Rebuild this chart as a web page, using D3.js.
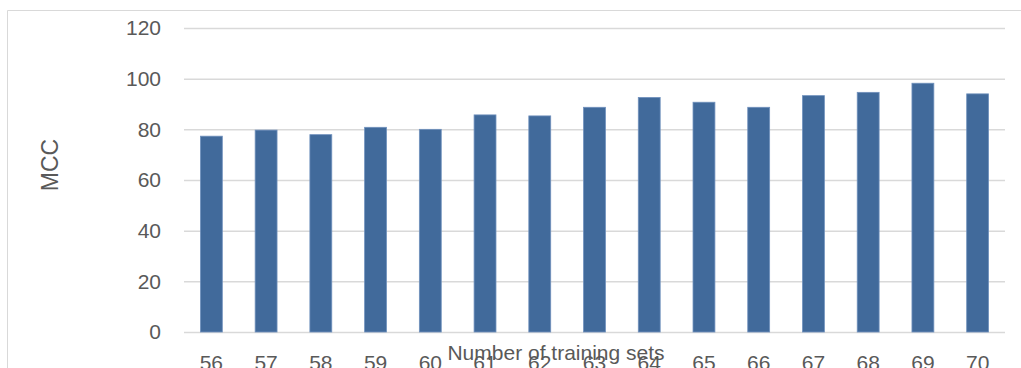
<!DOCTYPE html>
<html>
<head>
<meta charset="utf-8">
<script src="https://cdn.jsdelivr.net/npm/d3@7"></script>
<style>
  html, body { margin: 0; padding: 0; background: #fff; overflow: hidden; }
  svg { display: block; font-family: "Liberation Sans", "DejaVu Sans", sans-serif; }
</style>
</head>
<body>
<svg id="chart" width="1021" height="368"></svg>
<script>
// Training-set counts and the MCC reached with each
const categories = ["56", "57", "58", "59", "60", "61", "62", "63", "64", "65", "66", "67", "68", "69", "70"];
const mccValues = [77.3, 79.7, 77.9, 80.8, 80.0, 85.7, 85.3, 88.7, 92.6, 90.7, 88.7, 93.3, 94.6, 98.2, 94.0];
const yTicks = [0, 20, 40, 60, 80, 100, 120];
const xTitle = "Number of training sets";
const yTitle = "MCC";

const svg = d3.select("#chart");
const margin = { left: 184, right: 16, top: 28, bottom: 36 };
const W = 1021, H = 368;
const plotW = W - margin.left - margin.right;
const plotH = H - margin.top - margin.bottom;
const textColor = "#595959";

// chart area frame (light border, open on right/bottom edges)
svg.append("path")
  .attr("d", `M7.5,${H} V10.5 H${W}`)
  .attr("fill", "none")
  .attr("stroke", "#d9d9d9")
  .attr("stroke-width", 1);

const g = svg.append("g").attr("transform", `translate(${margin.left},${margin.top})`);

const x = d3.scaleBand().domain(categories).range([0, plotW]).paddingInner(0.6).paddingOuter(0.3);
const y = d3.scaleLinear().domain([0, 120]).range([plotH, 0]);

// horizontal gridlines
const yAxis = d3.axisLeft(y).tickValues(yTicks).tickSize(-plotW).tickPadding(23).tickFormat(d3.format("d"));
const ya = g.append("g").call(yAxis);
ya.select(".domain").remove();
ya.selectAll(".tick line").attr("stroke", "#d9d9d9").attr("stroke-width", 1.5);
ya.selectAll(".tick text")
  .attr("fill", textColor)
  .attr("font-size", 21)
  .attr("font-family", "Liberation Sans, sans-serif");

// bars
g.selectAll("rect.bar")
  .data(mccValues)
  .join("rect")
  .attr("class", "bar")
  .attr("x", (d, i) => x(categories[i]))
  .attr("width", x.bandwidth())
  .attr("y", d => y(d))
  .attr("height", d => y(0) - y(d))
  .attr("fill", "#416a9b")
  .attr("stroke", "#7091bd")
  .attr("stroke-width", 0.8);

// category labels
const xAxis = d3.axisBottom(x).tickSize(0).tickPadding(23);
const xa = g.append("g").attr("transform", `translate(0,${plotH})`).call(xAxis);
xa.select(".domain").remove();
xa.selectAll(".tick text")
  .attr("fill", textColor)
  .attr("font-size", 21)
  .attr("font-family", "Liberation Sans, sans-serif");

// axis titles
svg.append("text")
  .attr("x", 556)
  .attr("y", 360)
  .attr("text-anchor", "middle")
  .attr("fill", textColor)
  .attr("font-size", 21)
  .text(xTitle);

svg.append("text")
  .attr("transform", "translate(58,165) rotate(-90)")
  .attr("text-anchor", "middle")
  .attr("fill", textColor)
  .attr("font-size", 23)
  .text(yTitle);
</script>
</body>
</html>
